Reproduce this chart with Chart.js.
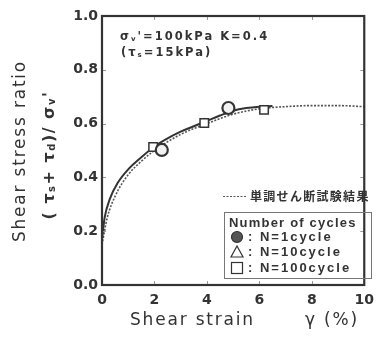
<!DOCTYPE html>
<html><head><meta charset="utf-8">
<script src="https://cdn.jsdelivr.net/npm/chart.js@4.4.1/dist/chart.umd.min.js"></script>
<style>html,body{margin:0;padding:0;background:#fff}#wrap{width:381px;height:338px}</style>
</head><body><div id="wrap"><canvas id="c" width="381" height="338"></canvas></div>
<script>
// ---- data ----
const xTicks = [0, 2, 4, 6, 8, 10];
const yTicks = [0.0, 0.2, 0.4, 0.6, 0.8, 1.0];
const cyclicCurveX = [0, 0.1, 0.3, 0.6, 1.0, 1.5, 2.0, 2.5, 3.0, 3.5, 4.0, 4.5, 5.0, 5.5, 6.0, 6.5];
const cyclicCurveY = [0.17, 0.25, 0.32, 0.38, 0.43, 0.475, 0.515, 0.545, 0.57, 0.59, 0.61, 0.63, 0.648, 0.658, 0.663, 0.665];
const monoCurveX = [0, 0.2, 0.5, 1.0, 1.5, 2.0, 3.0, 4.0, 5.0, 6.0, 7.0, 8.0, 9.0, 10.0];
const monoCurveY = [0.15, 0.25, 0.33, 0.41, 0.46, 0.50, 0.56, 0.60, 0.635, 0.655, 0.663, 0.667, 0.667, 0.663];
const n1X = [2.28, 4.82];
const n1Y = [0.502, 0.658];
const n10X = [1.97, 3.92, 6.15];
const n10Y = [0.512, 0.603, 0.651];
const n100X = [1.95, 3.9, 6.18];
const n100Y = [0.513, 0.602, 0.651];
const monoLabel = "単調せん断試験結果";
const legendTitle = "Number of cycles";
const legendLabels = [": N=1cycle", ": N=10cycle", ": N=100cycle"];

const pts = (xs, ys) => xs.map((x, i) => ({x: x, y: ys[i]}));
const INK = '#333';

function richText(ctx, parts, x, y, size, family, spacing) {
  let cx = x;
  for (const p of parts) {
    const s = p.sub ? Math.round(size * 0.6) : size;
    ctx.font = 'bold ' + s + 'px ' + family;
    ctx.letterSpacing = spacing + 'px';
    ctx.fillText(p.t, cx, p.sub ? y + size * 0.15 : y);
    cx += ctx.measureText(p.t).width;
  }
  return cx;
}
function richWidth(ctx, parts, size, family, spacing) {
  let w = 0;
  for (const p of parts) {
    const s = p.sub ? Math.round(size * 0.6) : size;
    ctx.font = 'bold ' + s + 'px ' + family;
    ctx.letterSpacing = spacing + 'px';
    w += ctx.measureText(p.t).width;
  }
  return w;
}

const decor = {
  id: 'decor',
  afterDraw(chart) {
    const ctx = chart.ctx, a = chart.chartArea;
    const xs = chart.scales.x, ys = chart.scales.y;
    ctx.save();
    // inner tick marks
    ctx.strokeStyle = '#999'; ctx.lineWidth = 1;
    ctx.beginPath();
    for (const t of xTicks.slice(1, -1)) {
      const px = Math.round(xs.getPixelForValue(t)) + 0.5;
      ctx.moveTo(px, a.top); ctx.lineTo(px, a.top + 4);
      ctx.moveTo(px, a.bottom); ctx.lineTo(px, a.bottom - 4);
    }
    for (const t of yTicks.slice(1, -1)) {
      const py = Math.round(ys.getPixelForValue(t)) + 0.5;
      ctx.moveTo(a.left, py); ctx.lineTo(a.left + 4, py);
      ctx.moveTo(a.right, py); ctx.lineTo(a.right - 4, py);
    }
    ctx.stroke();
    // frame
    ctx.strokeStyle = INK; ctx.lineWidth = 2.2;
    ctx.strokeRect(a.left, a.top, a.right - a.left, a.bottom - a.top);

    ctx.fillStyle = INK;
    ctx.textBaseline = 'middle';
    ctx.textAlign = 'left';
    const fam = '"DejaVu Sans", sans-serif';
    // annotation
    richText(ctx, [{t: "σ"}, {t: "v", sub: true}, {t: "'=100kPa K=0.4"}], 120, 37, 11.5, fam, 2);
    richText(ctx, [{t: "(τ"}, {t: "s", sub: true}, {t: "=15kPa)"}], 121, 53, 11.5, fam, 2);

    // x title
    ctx.font = '17px "DejaVu Sans", sans-serif';
    ctx.letterSpacing = '1.8px';
    ctx.fillText("Shear strain", 130, 321);
    ctx.fillText("γ (%)", 305, 321);

    // y title line 1
    ctx.save();
    ctx.translate(21, 151);
    ctx.rotate(-Math.PI / 2);
    ctx.textAlign = 'center';
    ctx.font = '17px "DejaVu Sans", sans-serif';
    ctx.letterSpacing = '1.8px';
    ctx.fillText("Shear stress ratio", 0, 0);
    ctx.restore();
    // y title line 2
    ctx.save();
    ctx.translate(50, 155);
    ctx.rotate(-Math.PI / 2);
    ctx.textAlign = 'left';
    const l2 = [{t: "( τ"}, {t: "s", sub: true}, {t: "+ τ"}, {t: "d", sub: true}, {t: ")/ σ"}, {t: "v", sub: true}, {t: "'"}];
    const w2 = richWidth(ctx, l2, 16, fam, 1.5);
    richText(ctx, l2, -w2 / 2, 0, 16, fam, 1.5);
    ctx.restore();

    // legend: monotonic curve
    ctx.letterSpacing = '0px';
    ctx.strokeStyle = '#555'; ctx.lineWidth = 1.2; ctx.setLineDash([2, 1.5]);
    ctx.beginPath(); ctx.moveTo(223, 196.5); ctx.lineTo(246, 196.5); ctx.stroke();
    ctx.setLineDash([]);
    ctx.font = 'bold 12px "Noto Sans CJK JP", sans-serif';
    ctx.letterSpacing = '1.3px';
    ctx.fillText(monoLabel, 250, 196);

    // legend box
    ctx.strokeStyle = '#777'; ctx.lineWidth = 1;
    ctx.strokeRect(224.5, 212.5, 147, 66);
    ctx.font = 'bold 13px "Liberation Sans", Arial, sans-serif';
    ctx.letterSpacing = '1.2px';
    ctx.fillText(legendTitle, 229, 223);
    ctx.letterSpacing = '2px';
    const rowsY = [237, 252, 268];
    legendLabels.forEach((s, i) => ctx.fillText(s, 248, rowsY[i] + 0.5));
    // legend symbols
    ctx.lineWidth = 1.2; ctx.strokeStyle = INK;
    ctx.fillStyle = '#555';
    ctx.beginPath(); ctx.arc(237, rowsY[0], 5.5, 0, Math.PI * 2); ctx.fill(); ctx.stroke();
    ctx.beginPath(); ctx.moveTo(237, rowsY[1] - 6); ctx.lineTo(243, rowsY[1] + 5); ctx.lineTo(231, rowsY[1] + 5); ctx.closePath(); ctx.stroke();
    ctx.strokeRect(231.5, rowsY[2] - 5.5, 11, 11);
    ctx.restore();
  }
};

const tickFont = {family: '"DejaVu Sans", sans-serif', size: 14, weight: 'bold'};
new Chart(document.getElementById('c'), {
  type: 'scatter',
  data: {
    datasets: [
      {data: pts(monoCurveX, monoCurveY), showLine: true, pointRadius: 0, borderColor: '#555', borderWidth: 1.6, borderDash: [2, 1.5], tension: 0.4, cubicInterpolationMode: 'monotone', order: 5},
      {data: pts(cyclicCurveX, cyclicCurveY), showLine: true, pointRadius: 0, borderColor: INK, borderWidth: 2, tension: 0.4, cubicInterpolationMode: 'monotone', order: 4},
      {data: pts(n10X, n10Y), pointStyle: 'triangle', pointRadius: 4, borderColor: INK, borderWidth: 1.2, backgroundColor: '#fff', order: 3},
      {data: pts(n100X, n100Y), pointStyle: 'rect', pointRadius: 6, borderColor: INK, borderWidth: 1.5, backgroundColor: '#fff', order: 2},
      {data: pts(n1X, n1Y), pointStyle: 'circle', pointRadius: 6, borderColor: INK, borderWidth: 2.2, backgroundColor: '#f2f2f2', order: 1}
    ]
  },
  options: {
    responsive: false, animation: false,
    layout: {padding: {top: 16, right: 7, left: 0, bottom: 0}},
    plugins: {legend: {display: false}, tooltip: {enabled: false}},
    scales: {
      x: {
        type: 'linear', min: 0, max: 10,
        afterFit: s => { s.height = 53; },
        afterBuildTicks: s => { s.ticks = xTicks.map(v => ({value: v})); },
        ticks: {font: tickFont, color: INK, padding: 7, maxRotation: 0, autoSkip: false, callback: v => String(v)},
        grid: {display: false, drawTicks: false},
        border: {display: false}
      },
      y: {
        type: 'linear', min: 0, max: 1,
        afterFit: s => { s.width = 102; },
        afterBuildTicks: s => { s.ticks = yTicks.map(v => ({value: v})); },
        ticks: {font: tickFont, color: INK, padding: 4, autoSkip: false, callback: v => Number(v).toFixed(1)},
        grid: {display: false, drawTicks: false},
        border: {display: false}
      }
    }
  },
  plugins: [decor]
});
</script>
</body></html>
